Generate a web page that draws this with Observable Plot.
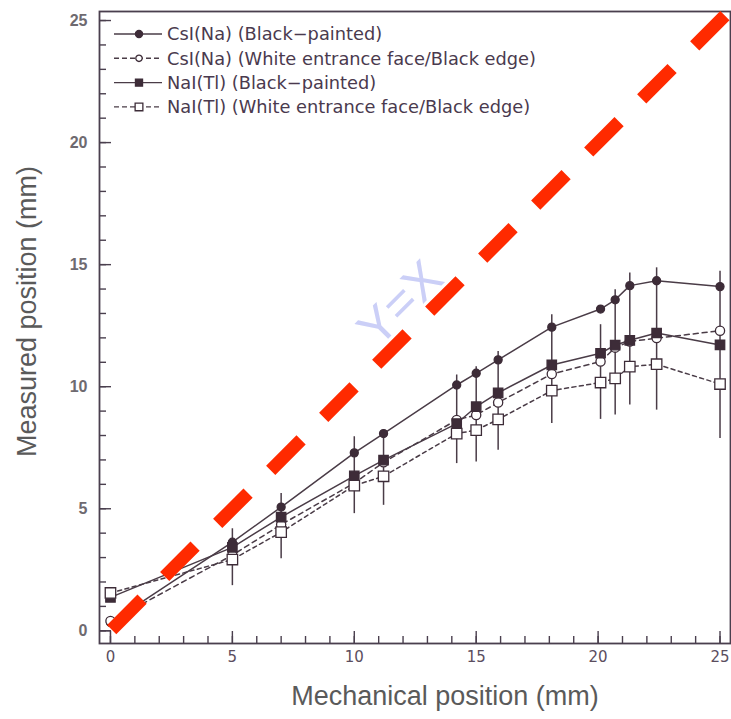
<!DOCTYPE html>
<html><head><meta charset="utf-8">
<script src="https://cdn.jsdelivr.net/npm/d3@7"></script>
<script src="https://cdn.jsdelivr.net/npm/@observablehq/plot@0.6"></script>
<style>html,body{margin:0;padding:0;background:#fff;} #chart{width:731px;height:719px;}</style>
</head><body><div id="chart"></div>
<script>
// ---- data ----
const mechanical = [0, 5, 7, 10, 11.2, 14.2, 15, 15.9, 18.1, 20.1, 20.7, 21.3, 22.4, 25];
const csiBlack = [0.34, 3.63, 5.07, 7.29, 8.08, 10.07, 10.55, 11.1, 12.44, 13.18, 13.56, 14.14, 14.34, 14.1];
const csiWhite = [0.4, 3.1, 4.35, 6.05, 6.9, 8.64, 8.84, 9.35, 10.52, 11.03, 11.6, 11.85, 11.99, 12.29];
const naiBlack = [1.37, 3.42, 4.66, 6.35, 6.99, 8.49, 9.18, 9.75, 10.89, 11.37, 11.7, 11.9, 12.2, 11.71];
const naiWhite = [1.55, 2.92, 4.04, 5.95, 6.33, 8.08, 8.22, 8.66, 9.84, 10.17, 10.34, 10.82, 10.92, 10.11];
const errX = [5, 7, 10, 11.2, 14.2, 15, 15.9, 18.1, 20.1, 20.7, 21.3, 22.4, 25];
const errLow = [1.85, 2.95, 4.8, 5.14, 6.85, 6.92, 7.4, 8.49, 8.66, 8.84, 9.25, 9.04, 7.88];
const errHigh = [4.18, 5.62, 7.95, 8.22, 10.48, 10.82, 11.44, 12.95, 12.54, 13.97, 14.66, 14.87, 14.73];
const seriesNames = [
  "CsI(Na) (Black\u2212painted)",
  "CsI(Na) (White entrance face/Black edge)",
  "NaI(Tl) (Black\u2212painted)",
  "NaI(Tl) (White entrance face/Black edge)"
];
const xTickLabels = [0, 5, 10, 15, 20, 25];
const yTickLabels = [0, 5, 10, 15, 20, 25];
const minorTicks = d3.range(0, 26);
const idealX = [0.05, 25.2];           // the y = x reference line
const annotationText = ["Y=X"];
const annotationPos = [11.9, 13.4];
const xLabel = "Mechanical position (mm)";
const yLabel = "Measured position (mm)";

// ---- layout / style ----
const W = 731, H = 719;
const mL = 99, mR = 1, mT = 11, mB = 76;
const frameW = W - mL - mR, frameH = H - mT - mB;
const ink = "#3d2c38", lineInk = "#4a3c47", axisInk = "#4a3f4e";

const styles = [
  {dash: null, symbol: "circle", r: 4, fill: ink},
  {dash: "5,4", symbol: "circle", r: 4.6, fill: "white"},
  {dash: null, symbol: "square", r: 5.3, fill: ink},
  {dash: "4,3.5", symbol: "square", r: 5.9, fill: "white"}
];
const seriesValues = [csiBlack, csiWhite, naiBlack, naiWhite];
const series = seriesValues.map((vals, k) => mechanical.map((x, i) => ({x, y: vals[i], k})));
const errRows = errX.map((x, i) => ({x, y1: errLow[i], y2: errHigh[i]}));
const idealRows = idealX.map(v => ({x: v, y: v}));

const marks = [];
// lines
series.forEach((rows, k) => marks.push(Plot.line(rows, {
  x: "x", y: "y", stroke: lineInk, strokeWidth: 1.5,
  strokeDasharray: styles[k].dash
})));
// error bars
marks.push(Plot.ruleX(errRows, {x: "x", y1: "y1", y2: "y2", stroke: lineInk, strokeWidth: 1.5}));
// markers
series.forEach((rows, k) => marks.push(Plot.dot(rows, {
  x: "x", y: "y", symbol: styles[k].symbol, r: styles[k].r,
  fill: styles[k].fill, stroke: ink, strokeWidth: 1.3
})));
// frame and inward ticks
marks.push(Plot.frame({stroke: axisInk, strokeWidth: 1.8}));
marks.push(Plot.tickX(minorTicks, {x: d => d, stroke: axisInk, strokeWidth: 1.4, insetTop: frameH - 7}));
marks.push(Plot.tickX(xTickLabels, {x: d => d, stroke: axisInk, strokeWidth: 1.4, insetTop: frameH - 12}));
marks.push(Plot.tickY(minorTicks, {y: d => d, stroke: axisInk, strokeWidth: 1.4, insetRight: frameW - 7}));
marks.push(Plot.tickY(yTickLabels, {y: d => d, stroke: axisInk, strokeWidth: 1.4, insetRight: frameW - 12}));
// corner box (origin tick extensions)
marks.push(Plot.ruleY([0], {x1: -0.45, x2: 0, stroke: axisInk, strokeWidth: 1.2}));
marks.push(Plot.ruleX([0], {y1: -0.52, y2: 0, stroke: axisInk, strokeWidth: 1.2}));
// tick labels
marks.push(Plot.text(xTickLabels, {x: d => d, text: d => String(d), frameAnchor: "bottom", dy: 14,
  lineAnchor: "middle", fontFamily: "DejaVu Sans", fontSize: 15, fill: "#5b4e5e"}));
marks.push(Plot.text(yTickLabels, {y: d => d, text: d => String(d), frameAnchor: "left", dx: -12,
  textAnchor: "end", fontFamily: "Liberation Sans", fontWeight: "bold", fontSize: 16, fill: "#6e6a70"}));
// axis titles
marks.push(Plot.text([xLabel], {text: d => d, frameAnchor: "bottom", dx: 30, dy: 61,
  textAnchor: "middle", fontFamily: "Liberation Sans", fontSize: 27, fill: "#5a5a5a"}));
marks.push(Plot.text([yLabel], {text: d => d, frameAnchor: "left", dx: -72, dy: -16, rotate: -90,
  textAnchor: "middle", fontFamily: "Liberation Sans", fontSize: 27, fill: "#5a5a5a"}));
// annotation
marks.push(Plot.text(annotationText, {x: () => annotationPos[0], y: () => annotationPos[1], text: d => d,
  rotate: -45, textAnchor: "middle", fontFamily: "Liberation Sans", fontSize: 50, fill: "#cbcff7"}));
// y = x red dashed line
marks.push(Plot.line(idealRows, {x: "x", y: "y", stroke: "#ff2a00", strokeWidth: 13,
  strokeDasharray: "43,32", strokeLinecap: "butt"}));

const plot = Plot.plot({
  width: W, height: H,
  marginLeft: mL, marginRight: mR, marginTop: mT, marginBottom: mB,
  x: {domain: [-0.45, 25.43], axis: null},
  y: {domain: [-0.52, 25.37], axis: null},
  style: {background: "white", overflow: "visible"},
  marks
});
document.getElementById("chart").appendChild(plot);

// ---- legend inside the frame ----
const svg = d3.select(plot);
const lg = svg.append("g").attr("class", "legend").attr("text-anchor", "start");
const rowY0 = 34, rowStep = 24.3;
const legendMarker = [
  {symbol: d3.symbolCircle, size: 40},
  {symbol: d3.symbolCircle, size: 32},
  {symbol: d3.symbolSquare, size: 50},
  {symbol: d3.symbolSquare, size: 60}
];
seriesNames.forEach((name, k) => {
  const y = rowY0 + k * rowStep;
  lg.append("line").attr("x1", 114).attr("x2", 162).attr("y1", y).attr("y2", y)
    .attr("stroke", lineInk).attr("stroke-width", 1.4)
    .attr("stroke-dasharray", styles[k].dash ? "5,3" : null);
  lg.append("path").attr("d", d3.symbol(legendMarker[k].symbol, legendMarker[k].size)())
    .attr("transform", `translate(139,${y})`)
    .attr("fill", styles[k].fill).attr("stroke", ink).attr("stroke-width", 1.3);
  lg.append("text").attr("x", 167).attr("y", y).attr("dy", "0.36em")
    .attr("text-anchor", "start")
    .attr("font-family", "DejaVu Sans").attr("font-size", 17.8).attr("fill", "#4a3a4e")
    .text(name);
});
</script></body></html>
